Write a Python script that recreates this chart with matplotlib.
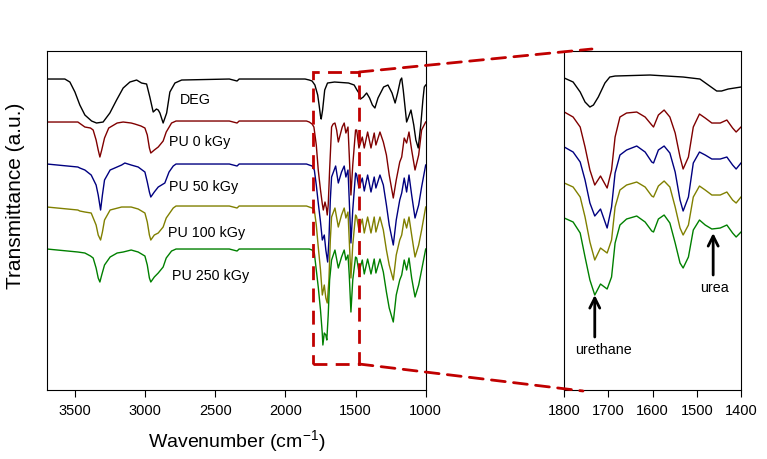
import matplotlib
matplotlib.use("Agg")
import matplotlib.pyplot as plt
from matplotlib.patches import Rectangle, ConnectionPatch

plt.rcParams['font.family'] = ['Liberation Sans', 'DejaVu Sans']
plt.rcParams['mathtext.default'] = 'regular'

# =========================
# full spectra (left panel), wavenumber in cm-1, transmittance in a.u. (offset)

deg_wn = [3700, 3573, 3537, 3501, 3466, 3430, 3382, 3347, 3300, 3252, 3204, 3157, 3109, 3061, 3026,
          2990, 2967, 2943, 2920, 2907, 2895, 2872, 2847, 2824, 2788, 2740, 2400, 2345, 2330, 1860,
          1830, 1810, 1790, 1770, 1760, 1750, 1745, 1735, 1720, 1700, 1650, 1550, 1510, 1490, 1476,
          1465, 1445, 1421, 1400, 1380, 1362, 1340, 1300, 1269, 1240, 1218, 1200, 1180, 1171, 1160,
          1145, 1136, 1125, 1105, 1085, 1070, 1053, 1035, 1020, 1010, 1000]
deg_t = [311, 311, 308, 298, 285, 275, 269, 267, 268, 277, 290, 302, 308, 310, 307,
         306, 293, 278, 281, 280, 277, 267, 277, 298, 307, 310, 311, 309, 311, 311,
         310, 309, 305, 295, 285, 274, 271, 280, 300, 307, 308, 307, 305, 300, 297,
         291, 293, 297, 292, 285, 282, 292, 303, 305, 297, 287, 297, 310, 312, 300,
         280, 268, 272, 280, 265, 250, 242, 265, 290, 303, 305]

pu0_wn = [3700, 3480, 3430, 3390, 3371, 3350, 3335, 3323, 3310, 3290, 3260, 3200, 3157, 3100, 3074,
          3030, 3002, 2985, 2970, 2960, 2935, 2907, 2872, 2850, 2812, 2780, 2400, 2345, 2330, 1850,
          1830, 1810, 1797, 1780, 1766, 1750, 1737, 1730, 1718, 1708, 1702, 1695, 1685, 1671, 1660,
          1647, 1635, 1623, 1610, 1595, 1581, 1569, 1554, 1545, 1533, 1520, 1500, 1492, 1476, 1452,
          1438, 1414, 1390, 1367, 1355, 1326, 1302, 1280, 1260, 1231, 1210, 1185, 1171, 1153, 1136,
          1119, 1100, 1076, 1050, 1029, 1000]
pu0_t = [268, 268, 263, 262, 260, 250, 240, 233, 240, 252, 262, 267, 268, 267, 266,
         264, 262, 255, 242, 237, 240, 243, 249, 258, 267, 269, 269, 267, 269, 269,
         268, 266, 263, 245, 220, 200, 186, 180, 188, 182, 175, 185, 220, 263, 266,
         267, 260, 248, 255, 263, 267, 257, 263, 235, 195, 225, 260, 260, 242, 253,
         242, 258, 242, 257, 245, 258, 248, 235, 215, 192, 210, 228, 233, 252, 247,
         258, 240, 220, 235, 260, 268]

pu50_wn = [3700, 3480, 3466, 3430, 3385, 3350, 3335, 3318, 3305, 3290, 3250, 3168, 3145, 3100, 3050,
           3002, 2985, 2970, 2960, 2935, 2907, 2860, 2830, 2800, 2780, 2400, 2345, 2330, 1850, 1830,
           1810, 1794, 1780, 1766, 1750, 1737, 1723, 1712, 1699, 1690, 1680, 1671, 1642, 1623, 1600,
           1581, 1569, 1554, 1545, 1533, 1520, 1500, 1492, 1476, 1452, 1438, 1414, 1390, 1367, 1355,
           1326, 1302, 1280, 1260, 1231, 1210, 1185, 1171, 1153, 1136, 1119, 1100, 1076, 1050, 1029,
           1000]
pu50_t = [226, 223, 222, 220, 215, 205, 195, 180, 195, 210, 220, 225, 227, 225, 223,
          218, 208, 198, 193, 198, 203, 207, 218, 224, 226, 226, 224, 226, 226, 225,
          224, 220, 205, 187, 168, 150, 155, 140, 128, 150, 190, 213, 224, 207, 218,
          224, 213, 220, 190, 147, 180, 217, 215, 202, 212, 199, 215, 198, 213, 202,
          215, 205, 185, 165, 145, 170, 190, 197, 212, 198, 215, 195, 172, 185, 203,
          225]

pu100_wn = [3700, 3480, 3466, 3430, 3385, 3350, 3335, 3318, 3305, 3290, 3250, 3168, 3100, 3050, 3002,
            2985, 2970, 2960, 2935, 2907, 2872, 2850, 2800, 2780, 2400, 2345, 2330, 1850, 1830, 1810,
            1794, 1780, 1766, 1750, 1737, 1723, 1712, 1702, 1690, 1680, 1671, 1647, 1623, 1600, 1581,
            1569, 1554, 1545, 1533, 1520, 1500, 1492, 1476, 1452, 1438, 1414, 1390, 1367, 1355, 1326,
            1302, 1280, 1260, 1231, 1210, 1185, 1171, 1153, 1136, 1119, 1100, 1076, 1050, 1029, 1000]
pu100_t = [183, 180, 179, 178, 177, 165, 155, 150, 158, 170, 180, 183, 183, 181, 177,
           168, 155, 150, 155, 157, 163, 172, 182, 184, 184, 182, 184, 184, 183, 182,
           180, 165, 143, 120, 95, 105, 92, 87, 110, 150, 173, 182, 163, 175, 182,
           172, 178, 150, 112, 145, 175, 173, 160, 171, 157, 173, 157, 173, 158, 173,
           160, 140, 125, 110, 135, 150, 155, 171, 162, 173, 155, 133, 145, 160, 183]

pu250_wn = [3700, 3480, 3430, 3390, 3371, 3350, 3335, 3323, 3310, 3290, 3250, 3200, 3157, 3100, 3050,
            3002, 2985, 2970, 2960, 2935, 2907, 2872, 2850, 2812, 2780, 2400, 2345, 2330, 1850, 1830,
            1810, 1794, 1780, 1766, 1750, 1738, 1733, 1723, 1712, 1705, 1695, 1685, 1671, 1647, 1623,
            1600, 1581, 1569, 1554, 1545, 1533, 1520, 1500, 1492, 1476, 1452, 1438, 1414, 1390, 1367,
            1355, 1326, 1302, 1280, 1260, 1231, 1210, 1185, 1171, 1153, 1136, 1119, 1100, 1076, 1050,
            1029, 1000]
pu250_t = [141, 138, 137, 134, 132, 122, 112, 108, 115, 125, 133, 137, 138, 140, 138,
           134, 125, 112, 108, 113, 117, 123, 132, 139, 141, 141, 139, 141, 141, 141,
           140, 137, 120, 103, 80, 58, 45, 57, 55, 50, 75, 110, 130, 140, 122,
           133, 140, 130, 135, 115, 78, 110, 133, 132, 118, 130, 116, 131, 116, 131,
           117, 131, 118, 98, 82, 68, 95, 110, 115, 130, 120, 132, 112, 93, 105,
           120, 141]

# =========================
# zoomed carbonyl region (right panel)

zdeg_wn = [1800, 1780, 1764, 1753, 1742, 1734, 1723, 1708, 1697, 1685, 1606, 1531, 1493, 1474, 1455,
           1444, 1429, 1400]
zdeg_t = [312, 308, 298, 288, 283, 285, 293, 307, 313, 314, 315, 313, 311, 305, 299,
          299, 301, 303]

zoom_wn = [1800, 1780, 1764, 1753, 1742, 1731, 1718, 1703, 1693, 1685, 1674, 1659, 1636, 1617, 1602,
           1598, 1587, 1574, 1561, 1549, 1538, 1531, 1519, 1508, 1494, 1481, 1466, 1447, 1432, 1419,
           1411, 1400]
zpu0_t = [278, 273, 263, 243, 220, 205, 214, 202, 220, 253, 273, 277, 278, 273, 265,
          263, 275, 280, 273, 257, 233, 221, 233, 263, 276, 272, 267, 267, 270, 262,
          258, 263]
zpu50_t = [243, 238, 228, 210, 187, 174, 181, 162, 183, 217, 235, 240, 244, 238, 228,
           227, 240, 244, 237, 218, 190, 179, 193, 227, 238, 235, 231, 231, 233, 225,
           221, 227]
zpu100_t = [207, 203, 193, 173, 148, 130, 142, 137, 150, 183, 200, 205, 208, 203, 194,
            193, 204, 209, 203, 183, 162, 155, 165, 193, 204, 200, 195, 195, 198, 190,
            187, 193]
zpu250_t = [172, 168, 157, 133, 110, 95, 106, 101, 113, 147, 165, 171, 174, 168, 159,
            158, 171, 175, 167, 147, 127, 122, 133, 160, 170, 165, 161, 162, 165, 157,
            153, 158]

labels = ["DEG", "PU 0 kGy", "PU 50 kGy", "PU 100 kGy", "PU 250 kGy"]
colors = ["black", "#800000", "#000080", "#808000", "#008000"]
label_pos = [(2753, 290), (2829, 248), (2829, 203), (2836, 157), (2812, 114)]

left_ticks = [3500, 3000, 2500, 2000, 1500, 1000]
right_ticks = [1800, 1700, 1600, 1500, 1400]

box_x = (1800, 1475)
box_y = (26, 318)
ymax = 339.3
red = "#c00000"

# =========================
# 畫圖

fig = plt.figure(figsize=(7.67, 4.59), dpi=100)
ax1 = fig.add_axes([0.0613, 0.1503, 0.4937, 0.7392])
ax2 = fig.add_axes([0.7357, 0.1503, 0.2304, 0.7392])

full = [(deg_wn, deg_t), (pu0_wn, pu0_t), (pu50_wn, pu50_t), (pu100_wn, pu100_t), (pu250_wn, pu250_t)]
for (wn, t), c, lab, pos in zip(full, colors, labels, label_pos):
    ax1.plot(wn, t, color=c, lw=1)
    ax1.text(pos[0], pos[1], lab, fontsize=10.3, ha="left", va="center")

ax2.plot(zdeg_wn, zdeg_t, color=colors[0], lw=1)
for t, c in zip([zpu0_t, zpu50_t, zpu100_t, zpu250_t], colors[1:]):
    ax2.plot(zoom_wn, t, color=c, lw=1)

ax1.set_xlim(3700, 1000)
ax2.set_xlim(1800, 1400)
for ax in (ax1, ax2):
    ax.set_ylim(0, ymax)
    ax.set_yticks([])
    ax.tick_params(axis="x", direction="out", length=5, width=0.8, labelsize=10.5, pad=5)
    for s in ax.spines.values():
        s.set_linewidth(0.8)
ax1.set_xticks(left_ticks)
ax2.set_xticks(right_ticks)

# 放大框
rect = Rectangle((box_x[0], box_y[0]), box_x[1] - box_x[0], box_y[1] - box_y[0], fill=False,
                 edgecolor=red, lw=2, ls=(0, (5, 3)), clip_on=False, zorder=5)
ax1.add_patch(rect)
for ya, yb in [(box_y[1], 1 - 49 / 459), (box_y[0], 1 - 391 / 459)]:
    xb = 592 / 767 if ya == box_y[1] else 583 / 767
    con = ConnectionPatch(xyA=(box_x[1], ya), coordsA="data", axesA=ax1,
                          xyB=(xb, yb), coordsB="figure fraction",
                          color=red, lw=2, ls=(0, (5, 3)), zorder=5)
    fig.add_artist(con)

# 箭頭標註
arrow = dict(arrowstyle="->", color="black", lw=2, mutation_scale=18, shrinkA=0, shrinkB=0)
ax2.annotate("", xy=(1731, 95), xytext=(1731, 53), arrowprops=arrow)
ax2.text(1712, 40, "urethane", fontsize=10.3, ha="center", va="center")
ax2.annotate("", xy=(1463, 157), xytext=(1463, 115), arrowprops=arrow)
ax2.text(1459, 102, "urea", fontsize=10.3, ha="center", va="center")

ax1.set_xlabel("Wavenumber (cm$^{-1}$)", fontsize=14, labelpad=7)
fig.text(0.0196, 1 - 196 / 459, "Transmittance (a.u.)", rotation=90, fontsize=15,
         ha="center", va="center")

fig.savefig("out.png", dpi=100)
